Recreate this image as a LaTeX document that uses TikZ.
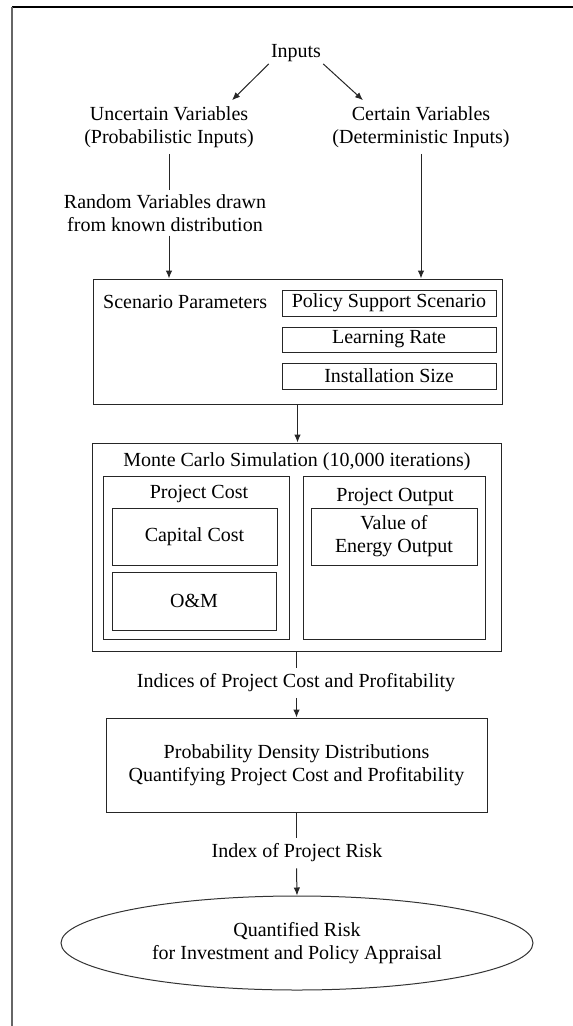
\documentclass[tikz,border=0pt]{standalone}
\usepackage{fontspec}
\setmainfont{Liberation Serif}
\usetikzlibrary{arrows.meta,shapes.geometric}

\begin{document}
\begin{tikzpicture}[x=1pt,y=-1pt,
  every node/.style={font=\fontsize{20}{23}\selectfont, text=black},
  txt/.style={inner xsep=2pt, inner ysep=0pt, align=center},
  box/.style={draw=black!85, line width=1pt, inner sep=0pt, align=center},
  con/.style={draw=black!85, line width=1pt},
  arr/.style={con, -{Latex[length=8pt,width=6.5pt]}},
]
\useasboundingbox (0,0) rectangle (573,1026);

% page frame
\draw[black, line width=1.5pt] (12,7) -- (573,7);
\draw[black!60, line width=2pt] (12,7) -- (12,1026);

% inputs
\node[txt, inner sep=2pt] (inputs) at (296,53) {Inputs};
\node[txt, inner ysep=6pt] (unc) at (169,127) {Uncertain Variables\\(Probabilistic Inputs)};
\node[txt, inner ysep=6pt] (cert) at (421,127) {Certain Variables\\(Deterministic Inputs)};
\node[txt, inner ysep=4pt] (rv) at (165,213) {Random Variables drawn\\from known distribution};

% scenario parameters
\node[box, minimum width=409pt, minimum height=125pt] (scen) at (297.5,341.5) {};
\node[txt, inner sep=0pt, anchor=west] (scenlbl) at (103,302) {Scenario Parameters};
\node[box, minimum width=214pt, minimum height=26pt] (policy) at (389,303) {Policy Support Scenario};
\node[box, minimum width=214pt, minimum height=25pt] (learn) at (389,339.5) {Learning Rate};
\node[box, minimum width=214pt, minimum height=26pt] (inst) at (389,376) {Installation Size};

% Monte Carlo simulation
\node[box, minimum width=409pt, minimum height=208pt] (mc) at (296.5,547) {};
\node[txt] (mclbl) at (297,462) {Monte Carlo Simulation (10,000 iterations)};
\node[box, minimum width=186pt, minimum height=163pt] (pcost) at (196,557.5) {};
\node[txt] (pcostlbl) at (199,494) {Project Cost};
\node[box, minimum width=165pt, minimum height=57pt] (capital) at (194.5,536.5) {Capital Cost};
\node[box, minimum width=164pt, minimum height=58pt] (om) at (194,601) {O\&M};
\node[box, minimum width=182pt, minimum height=163pt] (pout) at (394,557.5) {};
\node[txt] (poutlbl) at (395,497) {Project Output};
\node[box, minimum width=166pt, minimum height=57pt] (value) at (394,536.5) {Value of\\Energy Output};

% results
\node[txt, inner ysep=5.5pt] (indices) at (296,683) {Indices of Project Cost and Profitability};
\node[box, minimum width=381pt, minimum height=94pt] (pdd) at (296.5,765)
  {Probability Density Distributions\\Quantifying Project Cost and Profitability};
\node[txt, inner ysep=6pt] (risk) at (297,853) {Index of Project Risk};
\node[ellipse, draw=black!80, line width=1pt, inner sep=0pt, align=center,
      minimum width=472pt, minimum height=94pt] (quant) at (297,943)
  {Quantified Risk\\for Investment and Policy Appraisal};

% connectors
\draw[arr] (inputs.south west) -- ([xshift=63pt]unc.north);
\draw[arr] (inputs.south east) -- ([xshift=-58pt]cert.north);
\draw[con] (unc.south) -- (unc.south |- rv.north);
\draw[arr] (unc.south |- rv.south) -- (unc.south |- scen.north);
\draw[arr] (cert.south) -- (cert.south |- scen.north);
\draw[arr] (scen.south) -- (scen.south |- mc.north);
\draw[con] (mc.south) -- (mc.south |- indices.north);
\draw[arr] (mc.south |- indices.south) -- (mc.south |- pdd.north);
\draw[con] (pdd.south) -- (pdd.south |- risk.north);
\draw[arr] (pdd.south |- risk.south) -- (quant.north);
\end{tikzpicture}
\end{document}
